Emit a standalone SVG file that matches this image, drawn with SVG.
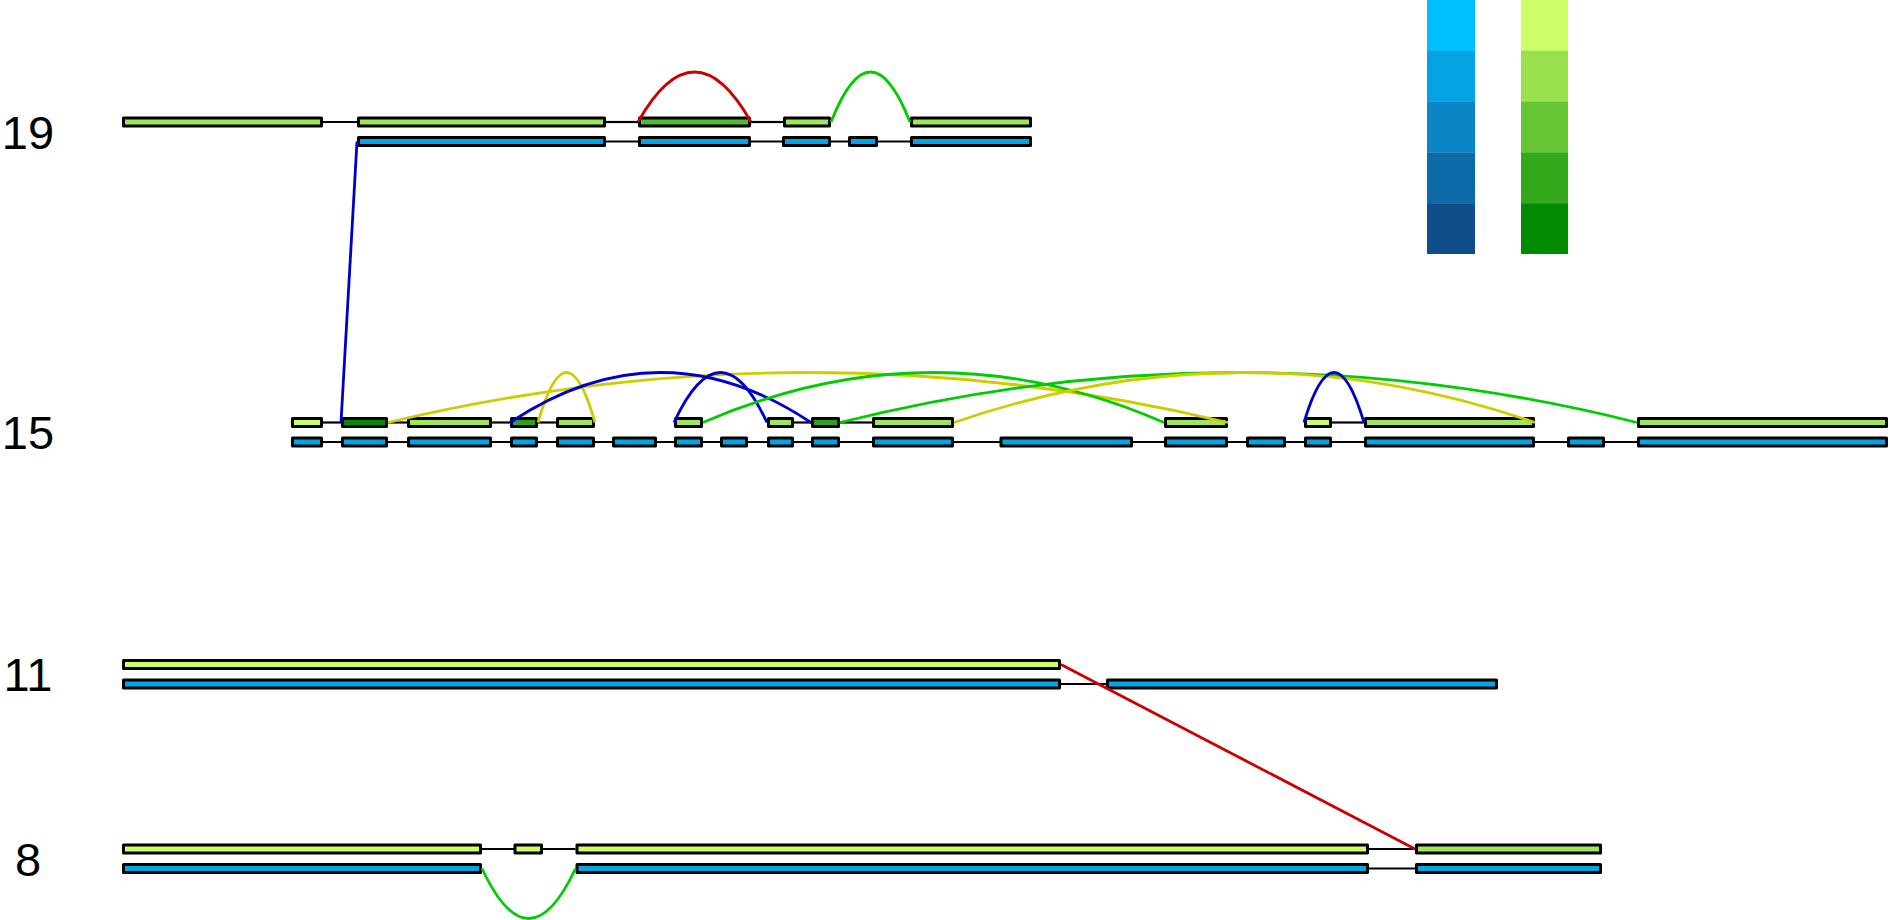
<svg xmlns="http://www.w3.org/2000/svg" width="1890" height="920" viewBox="0 0 1890 920">
<style>
.b{stroke:#000;stroke-width:3;stroke-linejoin:round}
.bl{fill:#00A5E2}
.g1{fill:#CCFF66}
.g2{fill:#A0E65A}
.g3{fill:#55B932}
.g4{fill:#2CA21E}
.g5{fill:#008B00}
.j{stroke:#000;stroke-width:2.2;fill:none}
.arc{fill:none;stroke-width:2.8}
.r{stroke:#CD0000}
.gr{stroke:#00CD00}
.bu{stroke:#0000CD}
.y{stroke:#CDCD00}
.lab{font-family:"Liberation Sans",Arial,sans-serif;font-size:47px;fill:#000;text-anchor:middle}
</style>
<rect width="1890" height="920" fill="#fff"/>
<g id="legend">
<rect x="1427" y="0" width="48" height="51" fill="#00BFFF"/>
<rect x="1427" y="50.8" width="48" height="51" fill="#04A3E2"/>
<rect x="1427" y="101.6" width="48" height="51" fill="#0886C5"/>
<rect x="1427" y="152.4" width="48" height="51" fill="#0C6AA8"/>
<rect x="1427" y="203.2" width="48" height="50.8" fill="#104E8B"/>
<rect x="1521" y="0" width="47" height="51" fill="#CCFF66"/>
<rect x="1521" y="50.8" width="47" height="51" fill="#99E24D"/>
<rect x="1521" y="101.6" width="47" height="51" fill="#66C533"/>
<rect x="1521" y="152.4" width="47" height="51" fill="#33A81A"/>
<rect x="1521" y="203.2" width="47" height="50.8" fill="#008B00"/>
</g>
<g id="labels">
<text class="lab" x="28" y="148.5">19</text>
<text class="lab" x="28" y="449">15</text>
<text class="lab" x="28" y="691">11</text>
<text class="lab" x="28" y="875.5">8</text>
</g>
<g id="row19-green">
<line class="j" x1="323" y1="122" x2="357" y2="122"/>
<line class="j" x1="606" y1="122" x2="638" y2="122"/>
<line class="j" x1="751" y1="122" x2="783" y2="122"/>
<rect class="b g2" x="123.5" y="118" width="198" height="8"/>
<rect class="b g2" x="358.5" y="118" width="246" height="8"/>
<rect class="b g3" x="639.5" y="118" width="110" height="8"/>
<rect class="b g2" x="784.5" y="118" width="45" height="8"/>
<rect class="b g2" x="911.5" y="118" width="119" height="8"/>
</g>
<g id="row19-blue">
<line class="j" x1="606" y1="141.5" x2="910" y2="141.5"/>
<rect class="b bl" x="358.5" y="137.5" width="246" height="8"/>
<rect class="b bl" x="639.5" y="137.5" width="110" height="8"/>
<rect class="b bl" x="783.5" y="137.5" width="46" height="8"/>
<rect class="b bl" x="849.5" y="137.5" width="27" height="8"/>
<rect class="b bl" x="911.5" y="137.5" width="119" height="8"/>
</g>
<g id="row15-green">
<line class="j" x1="323" y1="422.5" x2="341" y2="422.5"/>
<line class="j" x1="388" y1="422.5" x2="407" y2="422.5"/>
<line class="j" x1="492" y1="422.5" x2="510" y2="422.5"/>
<line class="j" x1="538" y1="422.5" x2="556" y2="422.5"/>
<line class="j" x1="794" y1="422.5" x2="811" y2="422.5"/>
<line class="j" x1="840" y1="422.5" x2="872" y2="422.5"/>
<line class="j" x1="1332" y1="422.5" x2="1364" y2="422.5"/>
<rect class="b g1" x="292.5" y="418.5" width="29" height="8"/>
<rect class="b g5" x="342.5" y="418.5" width="44" height="8"/>
<rect class="b g2" x="408.5" y="418.5" width="82" height="8"/>
<rect class="b g4" x="511.5" y="418.5" width="25" height="8"/>
<rect class="b g2" x="557.5" y="418.5" width="36" height="8"/>
<rect class="b g2" x="675.5" y="418.5" width="26" height="8"/>
<rect class="b g2" x="768.5" y="418.5" width="24" height="8"/>
<rect class="b g4" x="812.5" y="418.5" width="26" height="8"/>
<rect class="b g2" x="873.5" y="418.5" width="79" height="8"/>
<rect class="b g2" x="1165.5" y="418.5" width="61" height="8"/>
<rect class="b g1" x="1305.5" y="418.5" width="25" height="8"/>
<rect class="b g2" x="1365.5" y="418.5" width="168" height="8"/>
<rect class="b g2" x="1638.5" y="418.5" width="248" height="8"/>
</g>
<g id="row15-blue">
<line class="j" x1="323" y1="442" x2="1637" y2="442"/>
<rect class="b bl" x="292.5" y="438" width="29" height="8"/>
<rect class="b bl" x="342.5" y="438" width="44" height="8"/>
<rect class="b bl" x="408.5" y="438" width="82" height="8"/>
<rect class="b bl" x="511.5" y="438" width="25" height="8"/>
<rect class="b bl" x="557.5" y="438" width="36" height="8"/>
<rect class="b bl" x="613.5" y="438" width="42" height="8"/>
<rect class="b bl" x="675.5" y="438" width="26" height="8"/>
<rect class="b bl" x="721.5" y="438" width="25" height="8"/>
<rect class="b bl" x="768.5" y="438" width="24" height="8"/>
<rect class="b bl" x="812.5" y="438" width="26" height="8"/>
<rect class="b bl" x="873.5" y="438" width="79" height="8"/>
<rect class="b bl" x="1001" y="438" width="130.5" height="8"/>
<rect class="b bl" x="1165.5" y="438" width="61" height="8"/>
<rect class="b bl" x="1247.5" y="438" width="37" height="8"/>
<rect class="b bl" x="1305.5" y="438" width="25" height="8"/>
<rect class="b bl" x="1365.5" y="438" width="168" height="8"/>
<rect class="b bl" x="1568.5" y="438" width="35" height="8"/>
<rect class="b bl" x="1638.5" y="438" width="248" height="8"/>
</g>
<g id="row11-green">
<rect class="b g1" x="123.5" y="660.5" width="936" height="8"/>
</g>
<g id="row11-blue">
<line class="j" x1="1061" y1="684" x2="1106" y2="684"/>
<rect class="b bl" x="123.5" y="680" width="936" height="8"/>
<rect class="b bl" x="1107.5" y="680" width="389" height="8"/>
</g>
<g id="row8-green">
<line class="j" x1="482" y1="849" x2="575.5" y2="849"/>
<line class="j" x1="1369" y1="849" x2="1415" y2="849"/>
<rect class="b g1" x="123.5" y="845" width="357" height="8"/>
<rect class="b g1" x="515" y="845" width="26.5" height="8"/>
<rect class="b g1" x="577" y="845" width="790.5" height="8"/>
<rect class="b g2" x="1416.5" y="845" width="184" height="8"/>
</g>
<g id="row8-blue">
<line class="j" x1="1369" y1="868.5" x2="1415" y2="868.5"/>
<rect class="b bl" x="123.5" y="864.5" width="357" height="8"/>
<rect class="b bl" x="577" y="864.5" width="790.5" height="8"/>
<rect class="b bl" x="1416.5" y="864.5" width="184" height="8"/>
</g>
<g id="connectors">
<path class="arc r" d="M638,122 Q694.5,22 751,122"/>
<path class="arc gr" d="M831,122 Q870.5,22 910,122"/>
<line class="arc bu" x1="357" y1="141.5" x2="341" y2="422.5"/>
<path class="arc y" d="M388,422.5 Q808,322.5 1228,422.5"/>
<path class="arc y" d="M538,422.5 Q566.5,322.5 595,422.5"/>
<path class="arc bu" d="M510,422.5 Q660.5,322.5 811,422.5"/>
<path class="arc bu" d="M674,422.5 Q720.5,322.5 767,422.5"/>
<path class="arc gr" d="M703,422.5 Q933.5,322.5 1164,422.5"/>
<path class="arc gr" d="M840,422.5 Q1238.5,322.5 1637,422.5"/>
<path class="arc y" d="M954,422.5 Q1244.5,322.5 1535,422.5"/>
<path class="arc bu" d="M1304,422.5 Q1334,322.5 1364,422.5"/>
<line class="arc r" x1="1061" y1="664.5" x2="1415" y2="849"/>
<path class="arc gr" d="M482,868.5 Q528.75,968.5 575.5,868.5"/>
</g>
</svg>
